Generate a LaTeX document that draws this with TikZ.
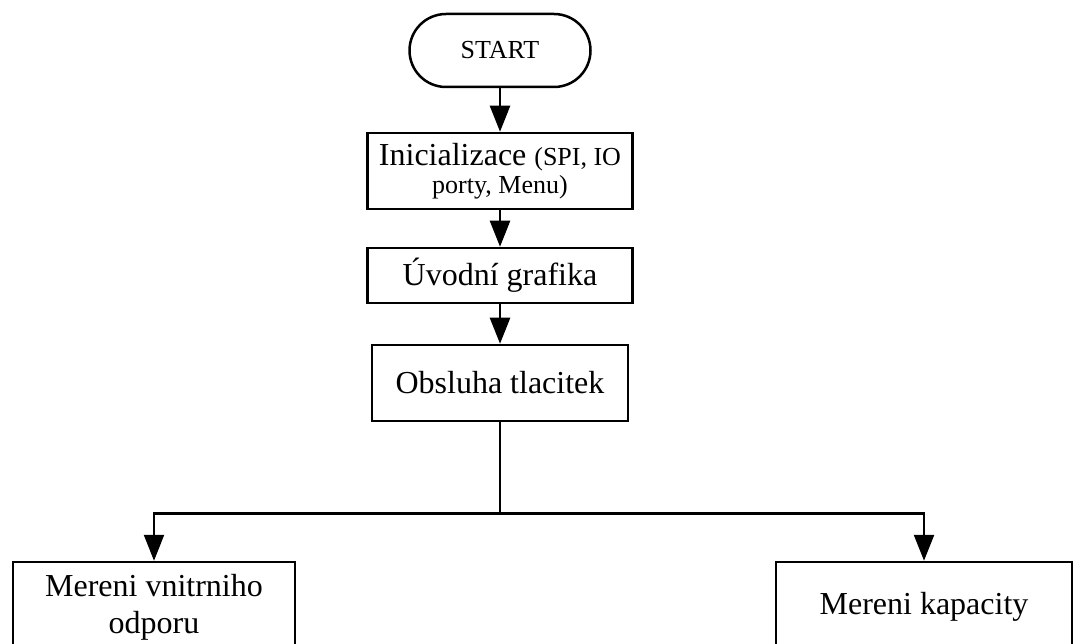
\documentclass[tikz,border=0pt]{standalone}
\usepackage{fontspec}
\setmainfont{Liberation Serif}
\usetikzlibrary{positioning,arrows.meta}

\begin{document}
\begin{tikzpicture}[x=1pt,y=1pt,on grid,line width=2.5pt,
	block/.style={draw,rectangle,align=center,inner sep=2pt,font=\fontsize{32}{38}\selectfont},
	terminal/.style={draw,rectangle,rounded corners=36.5pt,minimum width=181pt,minimum height=73pt,font=\fontsize{26}{30}\selectfont},
	flow/.style={-{Triangle[length=26pt,width=20pt]}}]

	\useasboundingbox (0,0) rectangle (1080,-644);

	\node[terminal] (start) at (500,-50.5) {START};
	\node[block,minimum width=265pt,minimum height=76pt,font=\fontsize{32}{28}\selectfont] (init) [below=120.5pt of start]
		{Inicializace {\fontsize{26}{28}\selectfont(SPI, IO}\\{\fontsize{26}{28}\selectfont porty, Menu)}};
	\node[block,minimum width=265pt,minimum height=55pt] (uvod) [below=104.5pt of init] {Úvodní grafika};
	\node[block,minimum width=256pt,minimum height=76pt] (obsl) [below=107.5pt of uvod] {Obsluha tlacitek};

	\node[block,minimum width=282pt,minimum height=90pt,font=\fontsize{32}{37}\selectfont] (odpor) [below left=224pt and 346pt of obsl] {Mereni vnitrniho\\odporu};
	\node[block,minimum width=296pt,minimum height=90pt] (kap) [below right=224pt and 424pt of obsl] {Mereni kapacity};

	\draw[flow] (start) -- (init);
	\draw[flow] (init) -- (uvod);
	\draw[flow] (uvod) -- (obsl);
	\draw (obsl.south) -- ++(0,-91) coordinate (split);
	\draw[flow] (split) -| (odpor);
	\draw[flow] (split) -| (kap);
\end{tikzpicture}
\end{document}
